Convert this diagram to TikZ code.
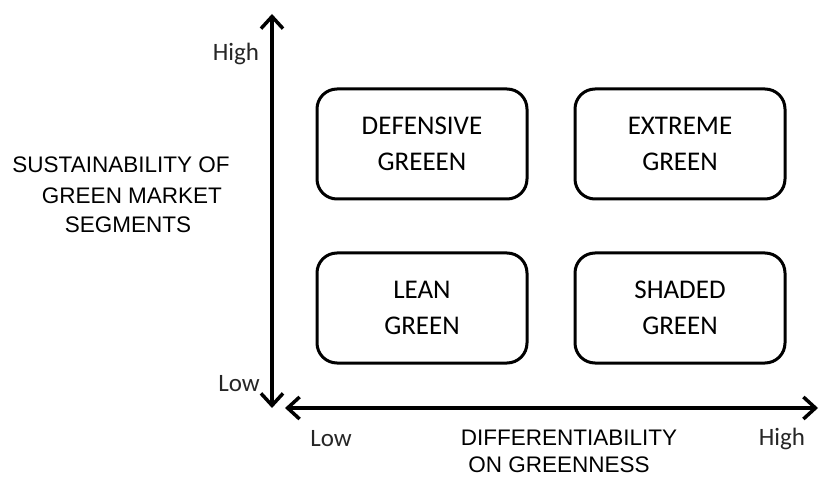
\documentclass[tikz,border=0pt]{standalone}
\usepackage{fontspec}
\setmainfont{Carlito}
\newfontfamily\axisfont{Liberation Sans}
\usetikzlibrary{arrows.meta}
\begin{document}
\begin{tikzpicture}[x=1pt,y=-1pt,
  quad/.style={draw, line width=3pt, rounded corners=20pt, minimum width=210pt, minimum height=110pt, align=center, font=\fontsize{27}{36}\selectfont, inner sep=0pt},
  axis/.style={line width=3.5pt, -{Straight Barb[length=12pt,width=22pt,line width=3.5pt]}},
  lbl/.style={font=\fontsize{25}{30}\selectfont, inner sep=0pt, text=black!85},
  ttl/.style={font=\axisfont\fontsize{22.5}{27}\selectfont, inner sep=0pt, anchor=base, text=black}]
\useasboundingbox (0,0) rectangle (822,478);
% quadrant boxes
\node[quad] (def) at (422,144) {DEFENSIVE\\GREEEN};
\node[quad] (ext) at (680,144) {EXTREME\\GREEN};
\node[quad] (lean) at (422,308) {LEAN\\GREEN};
\node[quad] (shd) at (680,308) {SHADED\\GREEN};
% axes
\coordinate (vlow) at (272,408);
\coordinate (vhigh) at (272,14);
\coordinate (hlow) at (285,408);
\coordinate (hhigh) at (818,408);
\draw[axis] (272,400) -- (vhigh);
\draw[axis] (272,30) -- (vlow);
\draw[axis] (300,408) -- (hhigh);
\draw[axis] (810,408) -- (hlow);
% axis ends
\node[lbl] (yh) at (236,54) {High};
\node[lbl] (yl) at (239,384) {Low};
\node[lbl] (xl) at (331,439) {Low};
\node[lbl] (xh) at (782,439) {High};
% axis titles
\node[ttl] (yt1) at (121,173) {SUSTAINABILITY OF};
\node[ttl] (yt2) at (132,204) {GREEN MARKET};
\node[ttl] (yt3) at (128,233) {SEGMENTS};
\node[ttl] (xt1) at (569,445) {DIFFERENTIABILITY};
\node[ttl] (xt2) at (559,472) {ON GREENNESS};
\end{tikzpicture}
\end{document}
